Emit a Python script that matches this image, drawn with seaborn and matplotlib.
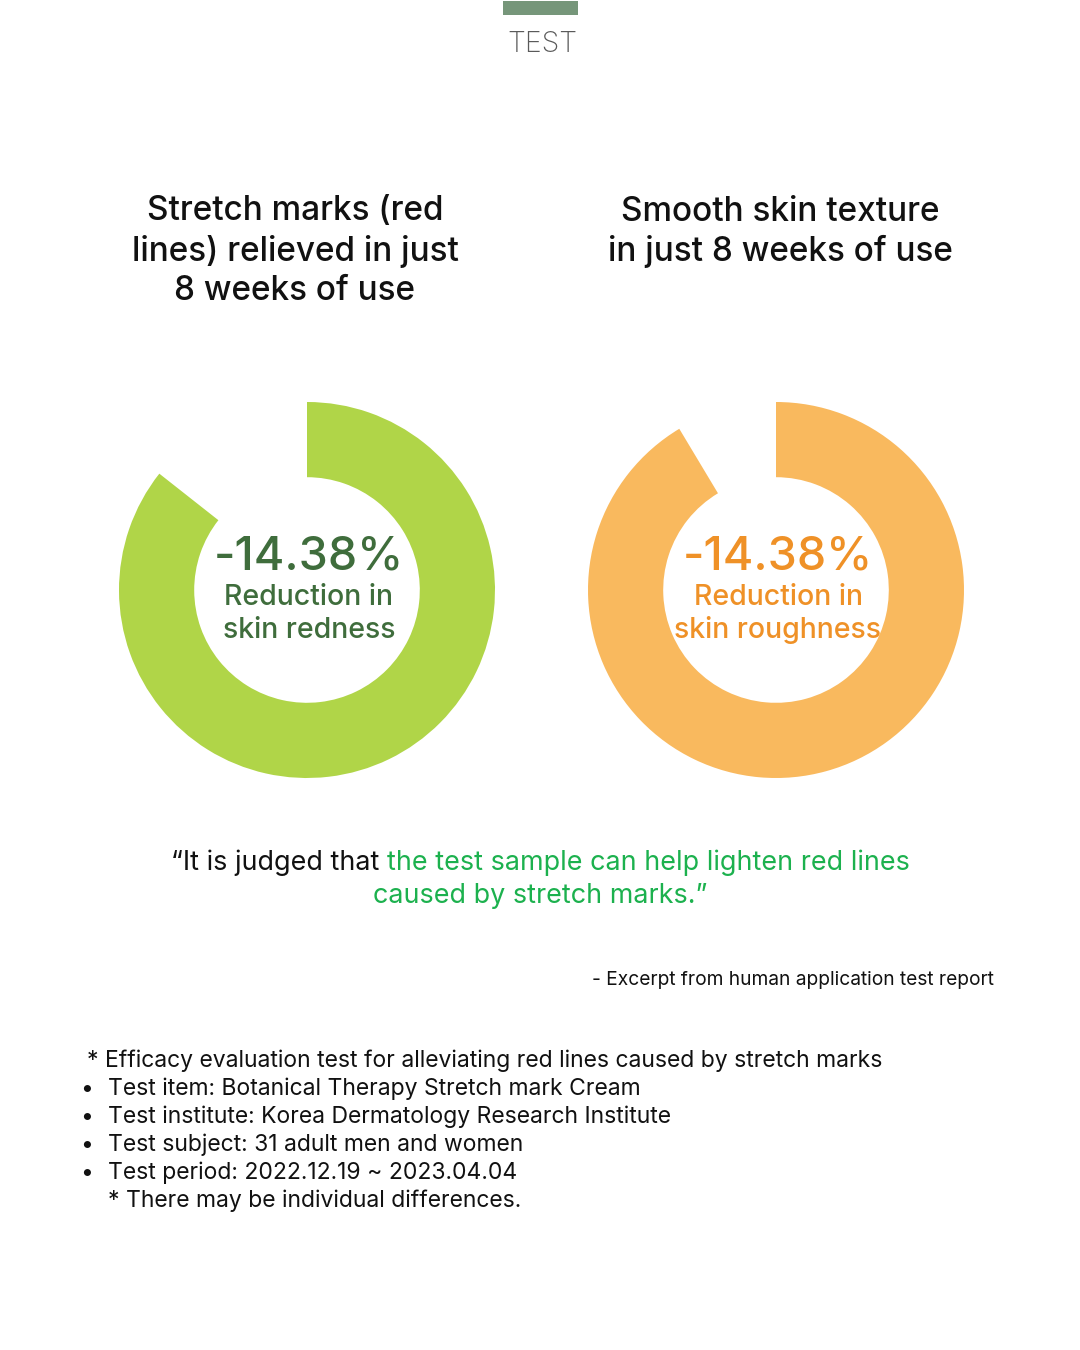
import matplotlib
matplotlib.use("Agg")
import matplotlib.pyplot as plt
import seaborn as sns

W, H = 1080, 1350

# data
donut_titles = ["Stretch marks (red\nlines) relieved in just\n8 weeks of use",
                "Smooth skin texture\nin just 8 weeks of use"]
donut_values = [14.38, 14.38]           # shown labels
gap_shares = [14.38, 8.6]               # share of the ring left empty
donut_labels = ["Reduction in\nskin redness", "Reduction in\nskin roughness"]
ring_colors = ["#b0d548", "#f9b95e"]
text_colors = ["#3f6d3c", "#ef9127"]

quote_black = "\u201cIt is judged that "
quote_green_1 = "the test sample can help lighten red lines"
quote_green_2 = "caused by stretch marks.\u201d"
source_note = "- Excerpt from human application test report"
header_note = "* Efficacy evaluation test for alleviating red lines caused by stretch marks"
bullets = ["Test item: Botanical Therapy Stretch mark Cream",
           "Test institute: Korea Dermatology Research Institute",
           "Test subject: 31 adult men and women",
           "Test period: 2022.12.19 ~ 2023.04.04"]
footer_note = "* There may be individual differences."

sns.set_theme(style="white")
plt.rcParams["font.family"] = ["Inter", "DejaVu Sans"]

fig = plt.figure(figsize=(W / 100, H / 100), dpi=100)
fig.patch.set_facecolor("white")


def fx(px):
    return px / W


def fy(py):
    return 1 - py / H


# header bar and title
bar = fig.add_axes([fx(503), fy(15), fx(75), 14 / H])
bar.set_facecolor("#76967a")
bar.set_xticks([])
bar.set_yticks([])
for s in bar.spines.values():
    s.set_visible(False)
fig.text(fx(542), fy(45), "TEST", ha="center", va="center",
         fontsize=20.5, color="#5a5a5a", fontweight="light")

# donuts
centers = [(307, 590), (776, 590)]
title_pos = [(295, 251), (780, 232)]
R = 188
for i, (cx, cy) in enumerate(centers):
    ax = fig.add_axes([fx(cx - R), fy(cy + R), 2 * R / W, 2 * R / H])
    shares = [100 - gap_shares[i], gap_shares[i]]
    ax.pie(shares, colors=[ring_colors[i], "none"], startangle=90,
           counterclock=False, radius=1,
           wedgeprops=dict(width=0.4, linewidth=0))
    ax.set_xlim(-1, 1)
    ax.set_ylim(-1, 1)
    ax.set_aspect("equal")
    ax.axis("off")

    tx, ty = title_pos[i]
    fig.text(fx(tx), fy(ty), donut_titles[i], ha="center", va="center",
             fontsize=24, fontweight="medium", color="#111111",
             linespacing=1.28)
    fig.text(fx(cx + 2), fy(557), f"-{donut_values[i]:.2f}%", ha="center",
             va="center", fontsize=33.5, fontweight="medium", color=text_colors[i])
    fig.text(fx(cx + 2), fy(614), donut_labels[i], ha="center", va="center",
             fontsize=20.5, fontweight="medium", color=text_colors[i],
             linespacing=1.25)

# quote, first line in two colours
green = "#1cb14e"
renderer = fig.canvas.get_renderer()
qs = 19.4
qy = 863
t1 = fig.text(0, fy(qy), quote_black, fontsize=qs, color="#111111",
              ha="left", va="center")
t2 = fig.text(0, fy(qy), quote_green_1, fontsize=qs, color=green,
              ha="left", va="center")
w1 = t1.get_window_extent(renderer).width
w2 = t2.get_window_extent(renderer).width
x0 = 540 - (w1 + w2) / 2
t1.set_x(fx(x0))
t2.set_x(fx(x0 + w1))
fig.text(fx(540), fy(qy + 33), quote_green_2, fontsize=qs, color=green,
         ha="center", va="center")

fig.text(fx(994), fy(980), source_note, fontsize=13.8, color="#111111",
         ha="right", va="center")

# test notes
ns = 16.5
fig.text(fx(87), fy(1061), header_note, fontsize=ns, color="#111111",
         ha="left", va="center")
for k, b in enumerate(bullets):
    y = 1089 + 28 * k
    fig.text(fx(87), fy(y), "\u2022", fontsize=ns, color="#111111",
             ha="center", va="center")
    fig.text(fx(108), fy(y), b, fontsize=ns, color="#111111",
             ha="left", va="center")
fig.text(fx(108), fy(1201), footer_note, fontsize=ns, color="#111111",
         ha="left", va="center")

fig.savefig("out.png", dpi=100, facecolor="white")
